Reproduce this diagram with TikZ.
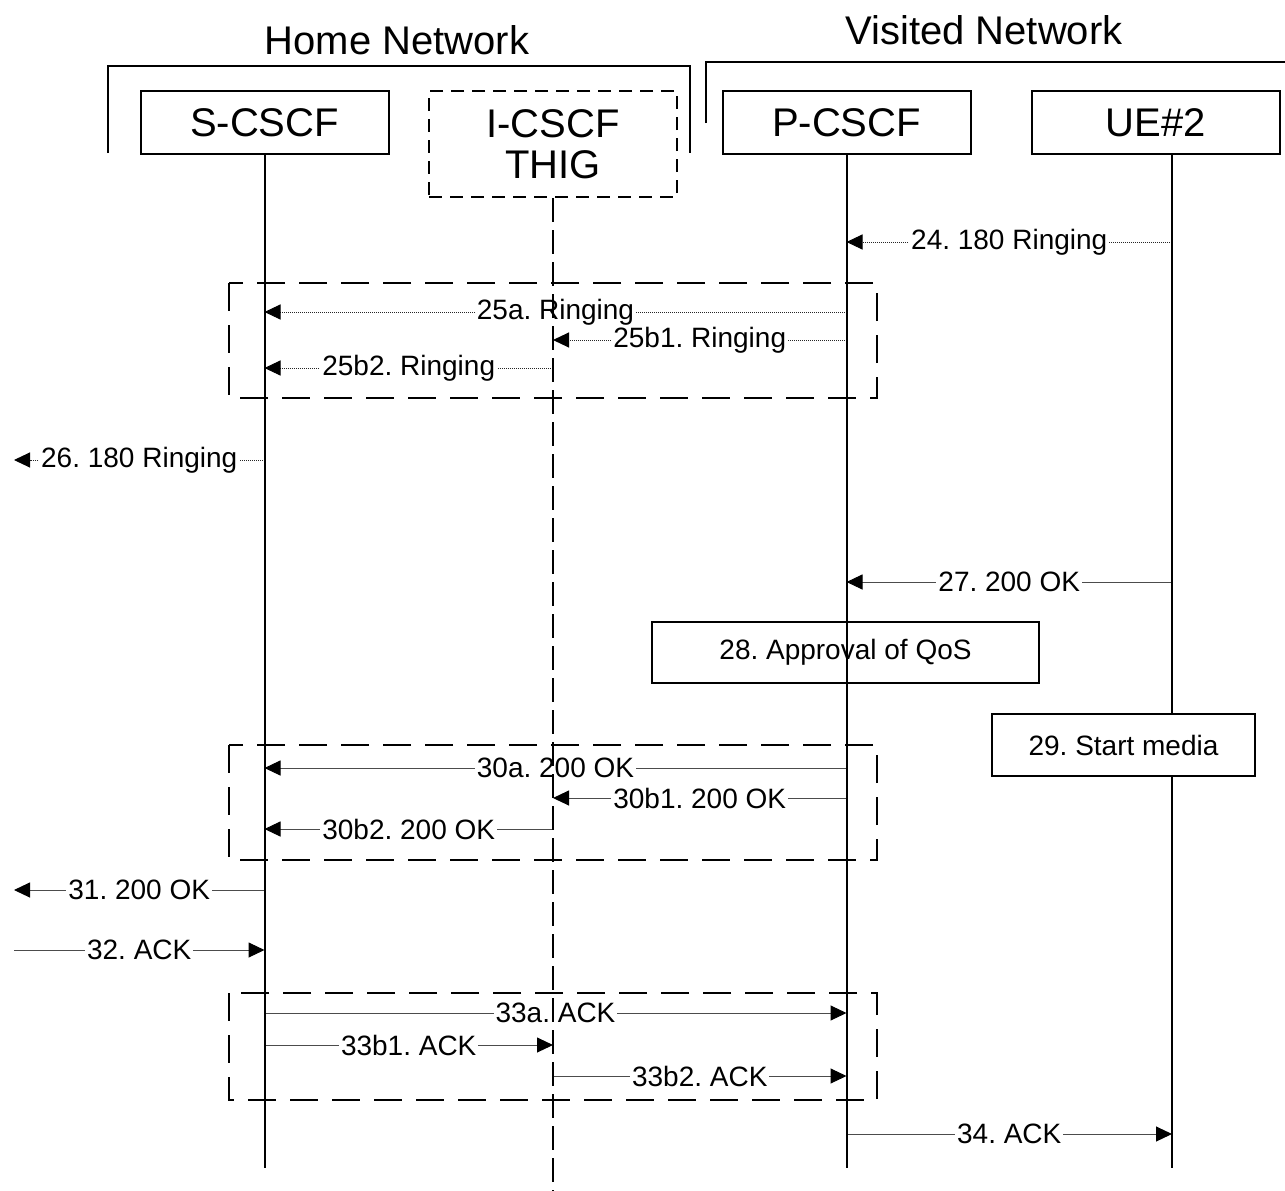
\documentclass[tikz,border=0pt]{standalone}
\usepackage{fontspec}
\setmainfont{Liberation Sans}
\usetikzlibrary{positioning,arrows.meta}
\frenchspacing
\tikzset{
  node-box/.style={draw,line width=2pt,minimum width=248pt,minimum height=63pt,
    inner sep=0pt,align=center,font=\fontsize{40}{41}\selectfont},
  node-box-dash/.style={node-box,dash pattern=on 13pt off 8pt,minimum height=106pt},
  node-act/.style={draw,line width=1.5pt,inner sep=0pt,font=\fontsize{28}{30}\selectfont},
  node-title/.style={font=\fontsize{40}{40}\selectfont},
  lifeline/.style={line width=2pt},
  lifeline-dash/.style={line width=2pt,dash pattern=on 24pt off 8pt},
  arrow/.style={-{Triangle[length=16pt,width=15pt,color=black]},line width=1pt,draw=black!70},
  arrow-dot/.style={arrow,draw=black!85,dash pattern=on 1pt off 1pt},
  msg/.style={fill=white,inner xsep=2pt,inner ysep=1pt,font=\fontsize{28}{30}\selectfont},
  group/.style={line width=2pt,dash pattern=on 28pt off 14pt},
  bracket/.style={line width=2pt},
}
\begin{document}
\begin{tikzpicture}[x=1pt,y=-1pt]
  \useasboundingbox (0,0) rectangle (1285,1191);
  % networks
  \node[node-title] (home) at (397,40) {Home Network};
  \node[node-title] (visited) at (984,30) {Visited Network};
  \draw[bracket] (108,153) |- (690,66) -- (690,153);
  \draw[bracket] (706,123) |- (1285,62);
  % entities
  \node[node-box] (scscf) at (264.5,122.5) {S-CSCF};
  \node[node-box-dash] (icscf) at (553,144) {I-CSCF\\THIG};
  \node[node-box] (pcscf) at (846.5,122.5) {P-CSCF};
  \node[node-box] (ue) at (1156,122.5) {UE\#2};
  \coordinate (ue-l) at ([xshift=16pt]ue.south);
  \coordinate (env) at (14,0);
  % groups
  \draw[group] (229,283) rectangle (877,398);
  \draw[group] (229,745) rectangle (877,860);
  \draw[group] (229,993) rectangle (877,1100);
  % messages
  \foreach \src/\dst/\yy/\txt/\sty in {
    ue-l/pcscf/242/24. 180 Ringing/arrow-dot,
    pcscf/scscf/312/25a. Ringing/arrow-dot,
    pcscf/icscf/340/25b1. Ringing/arrow-dot,
    icscf/scscf/368/25b2. Ringing/arrow-dot,
    scscf/env/460/26. 180 Ringing/arrow-dot,
    ue-l/pcscf/582/27. 200 OK/arrow,
    pcscf/scscf/768/30a. 200 OK/arrow,
    pcscf/icscf/798/30b1. 200 OK/arrow,
    icscf/scscf/829/30b2. 200 OK/arrow,
    scscf/env/890/31. 200 OK/arrow,
    env/scscf/950/32. ACK/arrow,
    scscf/pcscf/1013/33a. ACK/arrow,
    scscf/icscf/1045/33b1. ACK/arrow,
    icscf/pcscf/1076/33b2. ACK/arrow,
    pcscf/ue-l/1134/34. ACK/arrow}
    \draw[\sty] (\src |- 0,\yy) -- node[msg] {\txt} (\dst |- 0,\yy);
  % lifelines
  \draw[lifeline] (scscf.south) -- (scscf |- 0,1168);
  \draw[lifeline-dash] (icscf.south) -- (icscf |- 0,1191);
  \draw[lifeline] (pcscf.south) -- (pcscf |- 0,1168);
  \draw[lifeline] (ue-l) -- (ue-l |- 0,1168);
  % actions
  \node[node-act,minimum width=387pt,minimum height=61pt] (qos) at (845.5,652.5) {28. Approval of QoS};
  \node[node-act,fill=white,minimum width=263pt,minimum height=62pt] (media) at (1123.5,745) {29. Start media};
\end{tikzpicture}
\end{document}
